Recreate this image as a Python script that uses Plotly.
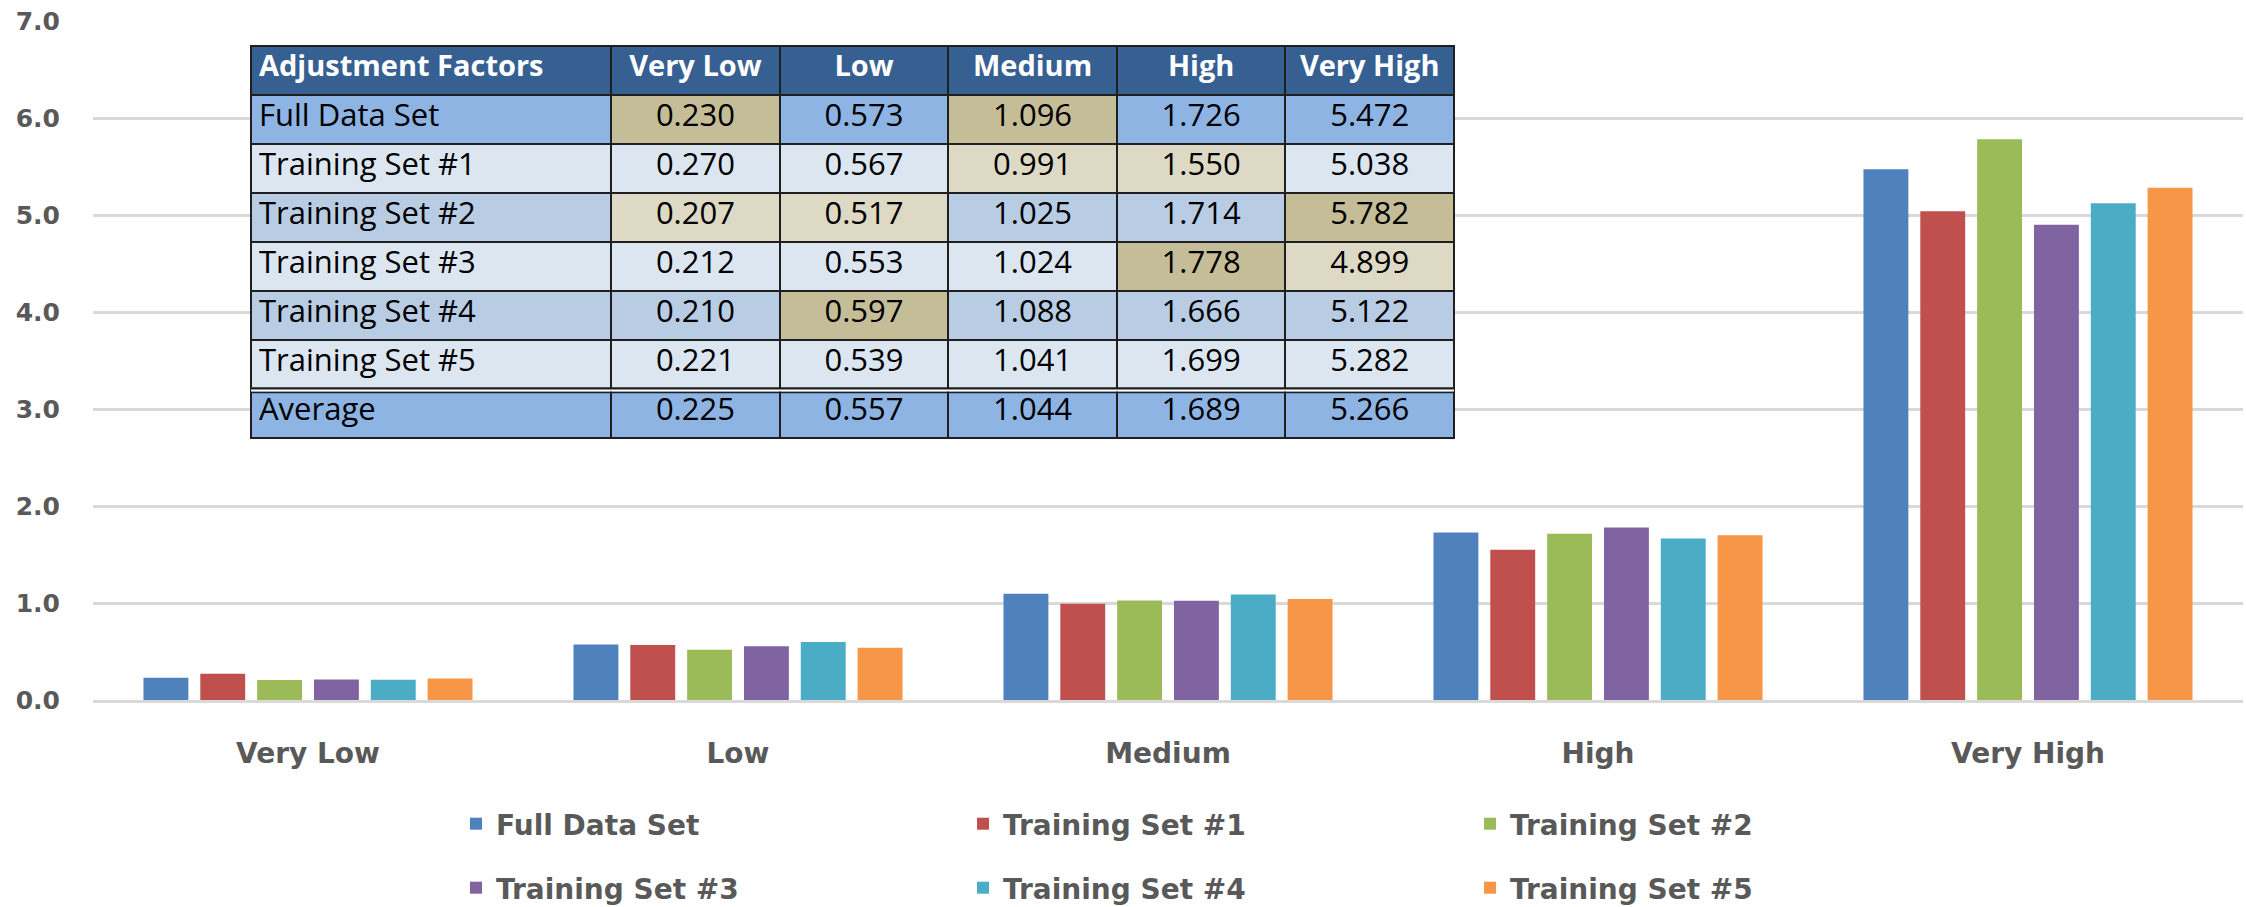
import plotly.graph_objects as go

# Rating categories on the x axis / table columns
categories = ["Very Low", "Low", "Medium", "High", "Very High"]

# Adjustment factor per data set
series_names = ["Full Data Set", "Training Set #1", "Training Set #2",
                "Training Set #3", "Training Set #4", "Training Set #5"]
full_data_set = [0.230, 0.573, 1.096, 1.726, 5.472]
training_set_1 = [0.270, 0.567, 0.991, 1.550, 5.038]
training_set_2 = [0.207, 0.517, 1.025, 1.714, 5.782]
training_set_3 = [0.212, 0.553, 1.024, 1.778, 4.899]
training_set_4 = [0.210, 0.597, 1.088, 1.666, 5.122]
training_set_5 = [0.221, 0.539, 1.041, 1.699, 5.282]
average = [0.225, 0.557, 1.044, 1.689, 5.266]

series_values = [full_data_set, training_set_1, training_set_2,
                 training_set_3, training_set_4, training_set_5]

y_ticks = [0, 1, 2, 3, 4, 5, 6, 7]

# ---- styling ----
bar_colors = ["#4F81BD", "#C0504D", "#9BBB59", "#8064A2", "#4BACC6", "#F79646"]
axis_grey = "#595959"
grid_grey = "#D9D9D9"

W, H = 2246, 907
M_L, M_R, M_T, M_B = 93, 3, 21, 207
plot_w = W - M_L - M_R
plot_h = H - M_T - M_B


def px_x(x):
    return (x - M_L) / plot_w


def px_y(y):
    return (H - M_B - y) / plot_h


fig = go.Figure()

for i, (name, vals) in enumerate(zip(series_names, series_values)):
    fig.add_trace(go.Bar(
        x=categories, y=vals, name=name,
        marker=dict(color=bar_colors[i], line=dict(width=0)),
        legend="legend" if i < 3 else "legend2",
        hoverinfo="skip",
    ))

# ---- summary table ----
row_labels = series_names + ["Average"]
table_rows = series_values + [average]

row_fill = {
    "Full Data Set": "#8DB4E2",
    "Training Set #1": "#DCE6F1",
    "Training Set #2": "#B8CCE4",
    "Training Set #3": "#DCE6F1",
    "Training Set #4": "#B8CCE4",
    "Training Set #5": "#DCE6F1",
    "Average": "#8DB4E2",
}
tan_dark = "#C4BD97"
tan_light = "#DDD9C4"
# (row, column) cells with a highlight fill
highlights = {
    ("Full Data Set", "Very Low"): tan_dark,
    ("Full Data Set", "Medium"): tan_dark,
    ("Training Set #1", "Medium"): tan_light,
    ("Training Set #1", "High"): tan_light,
    ("Training Set #2", "Very Low"): tan_light,
    ("Training Set #2", "Low"): tan_light,
    ("Training Set #2", "Very High"): tan_dark,
    ("Training Set #3", "High"): tan_dark,
    ("Training Set #3", "Very High"): tan_light,
    ("Training Set #4", "Low"): tan_dark,
}

col_values = [row_labels]
col_fills = [[row_fill[r] for r in row_labels]]
for j, cat in enumerate(categories):
    col_values.append([f"{row[j]:.3f}" for row in table_rows])
    col_fills.append([highlights.get((r, cat), row_fill[r]) for r in row_labels])

# keep two-word headers on one line
header_values = ["Adjustment\u00a0Factors"] + [c.replace(" ", "\u00a0") for c in categories]

TBL_L, TBL_R, TBL_T, TBL_B = 251, 1454, 46, 441
HEAD_H, ROW_H = 49, 49

tbl_font = "'Open Sans', sans-serif"
fig.add_trace(go.Table(
    domain=dict(x=[px_x(TBL_L), px_x(TBL_R)], y=[px_y(TBL_B), px_y(TBL_T)]),
    columnwidth=[361, 169, 169, 169, 169, 169],
    header=dict(
        values=header_values,
        fill_color="#366092",
        line=dict(color="#1F1F1F", width=2),
        align=["left"] + ["center"] * 5,
        font=dict(family=tbl_font, size=29, color="white", weight="bold"),
        height=HEAD_H,
    ),
    cells=dict(
        values=col_values,
        fill_color=col_fills,
        line=dict(color="#1F1F1F", width=2),
        align=["left"] + ["center"] * 5,
        font=dict(family=tbl_font, size=31, color="black"),
        height=ROW_H,
    ),
))

# double rule above the "Average" row
avg_top = TBL_T + HEAD_H + 6 * ROW_H
double_rule = []
for dy, col, w in [(-1, "#1F1F1F", 1.5), (1.5, "white", 2), (3.5, "#1F1F1F", 1.5)]:
    yy = px_y(avg_top + dy)
    double_rule.append(dict(
        type="line", xref="paper", yref="paper", layer="above",
        x0=px_x(TBL_L), x1=px_x(TBL_R), y0=yy, y1=yy,
        line=dict(color=col, width=w),
    ))

legend_common = dict(
    orientation="h", xanchor="left", yanchor="middle",
    x=px_x(456), entrywidth=462, entrywidthmode="pixels",
    font=dict(family="DejaVu Sans", size=28, color=axis_grey, weight="bold"),
    bgcolor="rgba(0,0,0,0)", traceorder="normal",
)

fig.update_layout(
    width=W, height=H,
    margin=dict(l=M_L, r=M_R, t=M_T, b=M_B, autoexpand=False),
    paper_bgcolor="white", plot_bgcolor="white",
    barmode="group", bargap=0.207, bargroupgap=0.21,
    showlegend=True,
    legend=dict(legend_common, y=px_y(824)),
    legend2=dict(legend_common, y=px_y(888)),
    shapes=double_rule,
    xaxis=dict(
        showgrid=False, showline=True, linecolor=grid_grey, linewidth=3,
        ticks="", ticklabelstandoff=26,
        tickfont=dict(family="DejaVu Sans", size=28, color=axis_grey, weight="bold"),
    ),
    yaxis=dict(
        range=[0, 7], tickvals=y_ticks, tickformat=".1f",
        showgrid=True, gridcolor=grid_grey, gridwidth=3,
        zeroline=False, showline=False, ticks="",
        ticklabelstandoff=32,
        tickfont=dict(family="DejaVu Sans", size=25, color=axis_grey, weight="bold"),
    ),
)

fig.write_html("out.html")
